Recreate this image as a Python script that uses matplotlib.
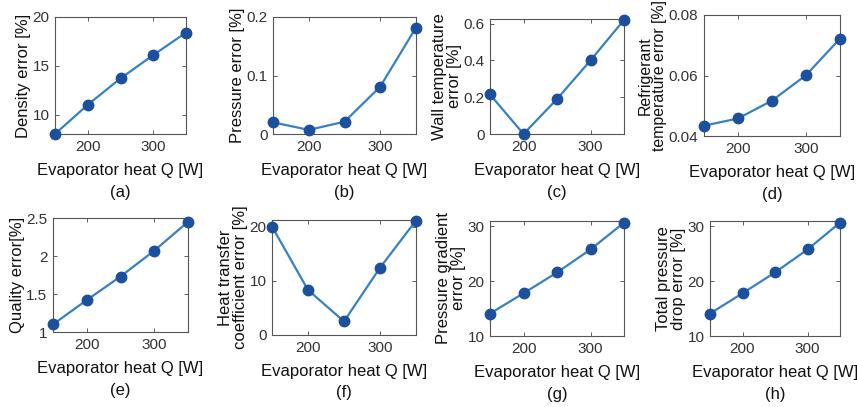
import matplotlib
matplotlib.use('Agg')
import matplotlib.pyplot as plt

plt.rcParams['font.family'] = ['Liberation Sans', 'DejaVu Sans']

# --- Data ---
heat_q = [150, 200, 250, 300, 350]

density_err = [8.0, 11.0, 13.7, 16.1, 18.4]
pressure_err = [0.020, 0.007, 0.021, 0.081, 0.182]
wall_temp_err = [0.215, 0.0, 0.19, 0.40, 0.62]
refr_temp_err = [0.0434, 0.0458, 0.0517, 0.0601, 0.0722]
quality_err = [1.10, 1.42, 1.73, 2.07, 2.45]
htc_err = [20.0, 8.3, 2.5, 12.4, 21.1]
grad_err = [14.1, 17.8, 21.6, 25.8, 30.7]
total_dp_err = [14.1, 17.8, 21.6, 25.8, 30.7]

series = [density_err, pressure_err, wall_temp_err, refr_temp_err,
          quality_err, htc_err, grad_err, total_dp_err]
ylabels = ['Density error [%]', 'Pressure error [%]',
           'Wall temperature\nerror [%]', 'Refrigerant\ntemperature error [%]',
           'Quality error[%]', 'Heat transfer\ncoefficient error [%]',
           'Pressure gradient\nerror [%]', 'Total pressure\ndrop error [%]']
ylabel_sizes = [12, 12, 12, 11.4, 12, 12, 12, 12]
ylims = [(8, 20), (0, 0.2), (0, 0.625), (0.04, 0.08),
         (1, 2.5), (0, 21.2), (10, 31), (10, 31)]
yticks = [[10, 15, 20], [0, 0.1, 0.2], [0, 0.2, 0.4, 0.6], [0.04, 0.06, 0.08],
          [1, 1.5, 2, 2.5], [0, 10, 20], [10, 20, 30], [10, 20, 30]]
yticklabels = [['10', '15', '20'], ['0', '0.1', '0.2'], ['0', '0.2', '0.4', '0.6'],
               ['0.04', '0.06', '0.08'], ['1', '1.5', '2', '2.5'],
               ['0', '10', '20'], ['10', '20', '30'], ['10', '20', '30']]
captions = ['(a)', '(b)', '(c)', '(d)', '(e)', '(f)', '(g)', '(h)']

# axes boxes in pixels: left, right, top, bottom
boxes = [(55, 186, 17, 134), (273, 416, 17, 134), (490, 624, 19, 134), (704, 840, 15, 136),
         (53, 188, 218, 332), (272, 416, 220, 335), (490, 624, 221, 336), (710, 840, 221, 336)]

W, H = 857, 407
fig = plt.figure(figsize=(W / 100, H / 100), dpi=100)

line_color = '#3681c4'
marker_color = '#1c4f9c'

for i in range(8):
    l, r, t, b = boxes[i]
    ax = fig.add_axes([l / W, 1 - b / H, (r - l) / W, (b - t) / H])
    ax.plot(heat_q, series[i], '-o', color=line_color, lw=1.6,
            markersize=7.5, markerfacecolor=marker_color, markeredgecolor=marker_color,
            clip_on=False, zorder=5)
    ax.set_xlim(150, 350)
    ax.set_ylim(*ylims[i])
    ax.set_xticks([200, 300])
    ax.set_yticks(yticks[i])
    ax.set_yticklabels(yticklabels[i])
    ax.tick_params(direction='in', top=True, right=True, labelsize=11,
                   length=3, width=0.6, colors='#444444', labelcolor='#333333', pad=4)
    for s in ax.spines.values():
        s.set_color('#555555')
        s.set_linewidth(0.8)
    ax.set_xlabel('Evaporator heat Q [W]', fontsize=12, labelpad=7, color='#111111')
    ax.set_ylabel(ylabels[i], fontsize=ylabel_sizes[i], labelpad=1, color='#111111',
                  linespacing=1.0)
    fig.text((l + r) / 2 / W, 1 - (b + 58) / H, captions[i], ha='center', va='center',
             fontsize=12, color='#111111')

fig.savefig('out.png', dpi=100)
